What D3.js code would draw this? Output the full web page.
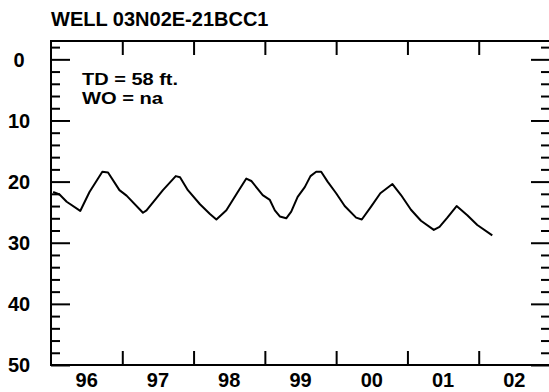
<!DOCTYPE html>
<html><head><meta charset="utf-8">
<script src="https://cdn.jsdelivr.net/npm/d3@7"></script>
<style>
body{margin:0;background:#fff;}
text{font-family:"Liberation Sans",Arial,sans-serif;font-weight:bold;fill:#000;}
</style></head>
<body><svg id="c" width="549" height="392"></svg>
<script>
const title = "WELL 03N02E-21BCC1";
const notes = ["TD = 58 ft.", "WO = na"];
const years = [1996.03,1996.12,1996.22,1996.41,1996.54,1996.72,1996.80,1996.96,1997.06,1997.29,1997.34,1997.57,1997.75,1997.81,1997.92,1998.09,1998.23,1998.32,1998.46,1998.62,1998.74,1998.81,1998.97,1999.07,1999.14,1999.21,1999.30,1999.37,1999.46,1999.56,1999.64,1999.72,1999.79,1999.88,2000.00,2000.12,2000.28,2000.36,2000.49,2000.62,2000.79,2000.91,2001.05,2001.19,2001.37,2001.45,2001.56,2001.69,2001.84,2001.98,2002.19];
const depths = [21.7,22.1,23.3,24.8,21.7,18.4,18.5,21.4,22.3,25.1,24.7,21.4,19.1,19.3,21.4,23.7,25.3,26.2,24.7,21.7,19.5,19.9,22.2,23.0,24.7,25.7,26.0,24.9,22.5,20.9,19.1,18.4,18.4,20.0,21.9,24.0,25.9,26.2,24.1,21.9,20.4,22.2,24.6,26.4,27.9,27.4,25.9,24.0,25.5,27.1,28.8];
const yearTicks = [1997,1998,1999,2000,2001,2002];
const yearLabels = ["96","97","98","99","00","01","02"];
const labelYears = [1996.5,1997.5,1998.5,1999.5,2000.5,2001.5,2002.5];
const depthMajor = [0,10,20,30,40,50];
const depthMinor = [-2,2,4,6,8,12,14,16,18,22,24,26,28,32,34,36,38,42,44,46,48];

const L=51, R=550, T=41, B=365;
const svg = d3.select("#c");
const x = d3.scaleLinear().domain([1996,2003]).range([L,R]);
const y = d3.scaleLinear().domain([-3,50]).range([T,B]);
const fs = 20;

function style(g){ g.select(".domain").remove(); g.selectAll("line").attr("stroke","#000").attr("stroke-width",2); g.selectAll("text").remove(); }

// frame
svg.append("rect").attr("x",L).attr("y",T).attr("width",R-L).attr("height",B-T)
  .attr("fill","none").attr("stroke","#000").attr("stroke-width",2);

// y ticks left/right
svg.append("g").attr("transform",`translate(${L},0)`).call(d3.axisLeft(y).tickValues(depthMajor).tickSize(-19)).call(style);
svg.append("g").attr("transform",`translate(${L},0)`).call(d3.axisLeft(y).tickValues(depthMinor).tickSize(-9)).call(style);
svg.append("g").attr("transform",`translate(${R},0)`).call(d3.axisRight(y).tickValues(depthMajor).tickSize(-19)).call(style);
svg.append("g").attr("transform",`translate(${R},0)`).call(d3.axisRight(y).tickValues(depthMinor).tickSize(-9)).call(style);
// x ticks top/bottom
svg.append("g").attr("transform",`translate(0,${T})`).call(d3.axisTop(x).tickValues(yearTicks).tickSize(-14)).call(style);
svg.append("g").attr("transform",`translate(0,${B})`).call(d3.axisBottom(x).tickValues(yearTicks).tickSize(-14)).call(style);

// y labels
svg.append("g").selectAll("text").data(depthMajor).join("text")
  .attr("x",19).attr("y",d=>y(d)).attr("dy","0.36em").attr("text-anchor","middle")
  .attr("font-size",fs).text(d=>d);
// x labels
svg.append("g").selectAll("text").data(labelYears).join("text")
  .attr("x",d=>x(d)).attr("y",386.5).attr("text-anchor","middle")
  .attr("font-size",fs).text((d,i)=>yearLabels[i]);

// title & notes
svg.append("text").attr("x",51).attr("y",26).attr("font-size",fs).text(title);
const noteW = [96, 81];
svg.append("g").selectAll("text").data(notes).join("text")
  .attr("x",82).attr("y",(d,i)=>85+i*18.5).attr("font-size",16)
  .attr("textLength",(d,i)=>noteW[i]).attr("lengthAdjust","spacingAndGlyphs").text(d=>d);

// line
svg.append("path").datum(years.map((t,i)=>[t,depths[i]]))
  .attr("fill","none").attr("stroke","#000").attr("stroke-width",2).attr("stroke-linejoin","round")
  .attr("d",d3.line().x(d=>x(d[0])).y(d=>y(d[1])));
</script></body></html>
